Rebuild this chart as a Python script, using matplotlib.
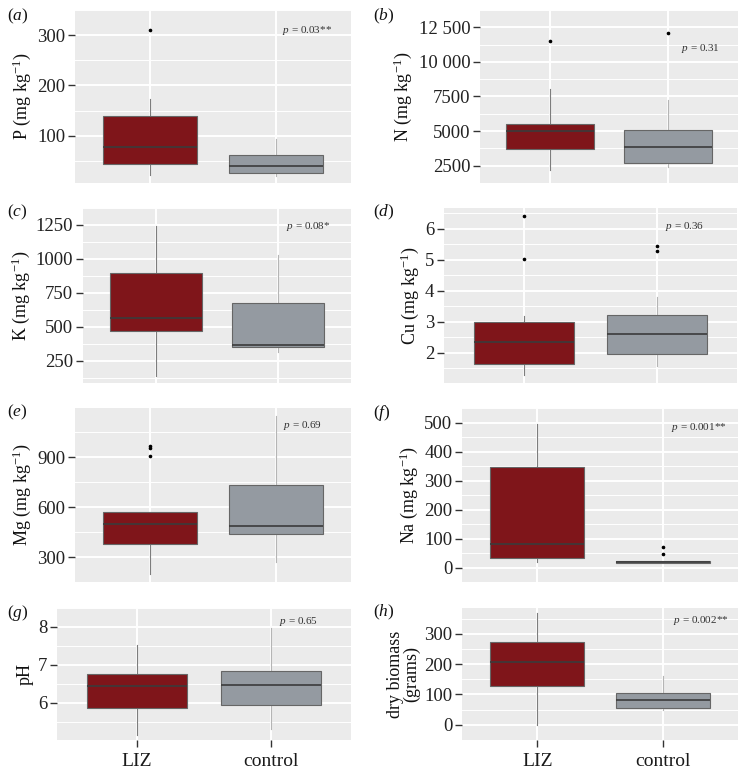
import matplotlib
matplotlib.use("Agg")
import matplotlib.pyplot as plt
from matplotlib.ticker import FuncFormatter

# ---------------------------------------
# Style
# ---------------------------------------

plt.rcParams["font.family"] = ["Liberation Serif", "DejaVu Serif"]
plt.rcParams["mathtext.fontset"] = "custom"
plt.rcParams["mathtext.rm"] = "Liberation Serif"
plt.rcParams["mathtext.it"] = "Liberation Serif:italic"

# ---------------------------------------
# Data (box stats)
# order: whislo, q1, med, q3, whishi
# ---------------------------------------

groups = ["LIZ", "control"]

panel_letters = ["a", "b", "c", "d", "e", "f", "g", "h"]

ylabels = [
    "P (mg kg$^{-1}$)",
    "N (mg kg$^{-1}$)",
    "K (mg kg$^{-1}$)",
    "Cu (mg kg$^{-1}$)",
    "Mg (mg kg$^{-1}$)",
    "Na (mg kg$^{-1}$)",
    "pH",
    "dry biomass\n(grams)",
]

pvalues = ["0.03**", "0.31", "0.08*", "0.36", "0.69", "0.001**", "0.65", "0.002**"]

liz_stats = [
    [21, 43, 78, 140, 174],
    [2190, 3690, 5000, 5480, 8020],
    [141, 472, 564, 898, 1239],
    [1.28, 1.645, 2.34, 2.98, 3.17],
    [200, 376, 500, 570, 570],
    [20, 32, 80.5, 345, 495],
    [5.155, 5.86, 6.44, 6.75, 7.53],
    [0, 127.5, 206, 272, 367],
]

control_stats = [
    [20, 25, 39.5, 61.5, 93],
    [2440, 2670, 3830, 5080, 7230],
    [313, 350, 364, 673, 1032],
    [1.58, 1.946, 2.59, 3.215, 3.80],
    [270, 440, 484, 736, 1150],
    [15, 16, 19, 22, 24],
    [5.31, 5.94, 6.48, 6.845, 7.96],
    [50, 57, 80.6, 104, 160],
]

liz_outliers = [
    [311],
    [11520],
    [],
    [6.41, 5.01],
    [970, 956, 910],
    [],
    [],
    [],
]

control_outliers = [
    [],
    [12080],
    [],
    [5.43, 5.29],
    [],
    [70, 48],
    [],
    [],
]

major_ticks = [
    [100, 200, 300],
    [2500, 5000, 7500, 10000, 12500],
    [250, 500, 750, 1000, 1250],
    [2, 3, 4, 5, 6],
    [300, 600, 900],
    [0, 100, 200, 300, 400, 500],
    [6, 7, 8],
    [0, 100, 200, 300],
]

ylims = [
    (6, 324),
    (1690, 12600),
    (88, 1296),
    (1.02, 6.67),
    (156, 1196),
    (-5, 518),
    (5.02, 8.08),
    (-18, 385),
]

# ---------------------------------------
# Layout (pixel boxes: left, right, top, bottom)
# ---------------------------------------

W, H = 746, 770
boxes = [
    (75, 351, 10, 183),
    (480, 738, 10, 183),
    (83, 351, 208, 383),
    (444, 737, 208, 383),
    (75, 351, 408, 582),
    (462, 738, 408, 582),
    (57, 351, 608, 740),
    (462, 738, 608, 740),
]
label_pos = [(7, 7), (373, 7), (7, 203), (373, 203),
             (7, 403), (373, 403), (7, 603), (373, 603)]
ptext_pos = [(2.25, 0.88), (2.28, 0.78), (2.25, 0.893), (2.21, 0.893),
             (2.21, 0.897), (2.29, 0.889), (2.21, 0.896), (2.30, 0.909)]

fill_colors = ["#7f151a", "#949aa1"]
whisker_colors = ["#7d7d7d", "#b5b5b5"]


def thousands(v, pos):
    if v >= 10000:
        s = f"{int(v):,}".replace(",", " ")
        return s
    return f"{v:g}"


fig = plt.figure(figsize=(W / 100, H / 100), dpi=100)

for i in range(8):
    l, r, t, b = boxes[i]
    ax = fig.add_axes([l / W, 1 - b / H, (r - l) / W, (b - t) / H])
    ax.set_facecolor("#ebebeb")
    for s in ax.spines.values():
        s.set_visible(False)

    stats = []
    for j, (st, fl) in enumerate([(liz_stats[i], liz_outliers[i]),
                                  (control_stats[i], control_outliers[i])]):
        stats.append({
            "whislo": st[0], "q1": st[1], "med": st[2],
            "q3": st[3], "whishi": st[4], "fliers": fl,
        })

    bp = ax.bxp(
        stats,
        positions=[1, 2],
        widths=0.75,
        patch_artist=True,
        showcaps=False,
        boxprops=dict(edgecolor="#666666", linewidth=0.8),
        medianprops=dict(color="#3b3b3b", linewidth=1.2),
        flierprops=dict(marker="o", markersize=1.6, markerfacecolor="black",
                        markeredgecolor="black", linestyle="none"),
        zorder=3,
    )
    for j in range(2):
        bp["boxes"][j].set_facecolor(fill_colors[j])
        bp["boxes"][j].set_zorder(3)
        for w in bp["whiskers"][2 * j:2 * j + 2]:
            w.set_color(whisker_colors[j])
            w.set_linewidth(0.8)
            w.set_zorder(2)

    ax.set_xlim(0.4, 2.6)
    ax.set_ylim(*ylims[i])
    ax.set_yticks(major_ticks[i])
    mt = major_ticks[i]
    step = mt[1] - mt[0]
    minors = [mt[0] - step / 2] + [v + step / 2 for v in mt]
    ax.set_yticks(minors, minor=True)
    ax.yaxis.set_major_formatter(FuncFormatter(thousands))

    ax.set_axisbelow(True)
    ax.grid(which="major", color="white", linewidth=1.4)
    ax.grid(which="minor", axis="y", color="white", linewidth=0.7)

    ax.tick_params(axis="y", which="major", length=5, width=1.0,
                   color="#333333", labelsize=13.5, labelcolor="#222222",
                   pad=2)
    ax.tick_params(axis="y", which="minor", length=0)

    ax.set_xticks([1, 2])
    if i >= 6:
        ax.set_xticklabels(groups)
        ax.tick_params(axis="x", length=5, width=1.0, color="#333333",
                       labelsize=14, labelcolor="#1a1a1a", pad=4)
    else:
        ax.tick_params(axis="x", length=0, labelbottom=False)

    ax.set_ylabel(ylabels[i], fontsize=13, color="#111111", labelpad=3,
                  linespacing=0.9)

    px, py = ptext_pos[i]
    ax.text(px, py, "$p$ = " + pvalues[i], transform=ax.get_xaxis_transform(),
            ha="center", va="center", fontsize=8, color="#333333", zorder=5)

    lx, ly = label_pos[i]
    fig.text(lx / W, 1 - ly / H, "($\\mathit{" + panel_letters[i] + "}$)",
             ha="left", va="top", fontsize=12.5, color="#111111")

fig.savefig("out.png", dpi=100)
